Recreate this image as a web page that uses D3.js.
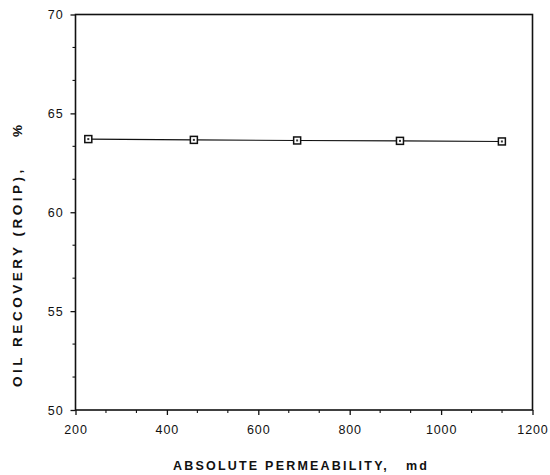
<!DOCTYPE html>
<html>
<head>
<meta charset="utf-8">
<script src="https://d3js.org/d3.v7.min.js"></script>
<style>
  body { margin: 0; background: #fff; }
  svg { display: block; }
  text { font-family: "Liberation Sans", Arial, sans-serif; fill: #111; }
  .tick-label { font-size: 12.5px; letter-spacing: 0.9px; }
  .title { font-size: 12.5px; font-weight: bold; white-space: pre; }
  .title.ytitle { font-size: 13.5px; }
</style>
</head>
<body>
<svg width="550" height="475"></svg>
<script>
// permeability (md) and oil recovery (% ROIP)
var permeability = [228, 459, 685, 910, 1133];
var recovery = [63.7, 63.66, 63.63, 63.61, 63.58];

var xTicks = [200, 400, 600, 800, 1000, 1200];
var yTicks = [50, 55, 60, 65, 70];

var svg = d3.select("svg");
var plotLeft = 75.5, plotRight = 532.5, plotTop = 14.5, plotBottom = 410;

var x = d3.scaleLinear().domain([200, 1200]).range([plotLeft, plotRight]);
var y = d3.scaleLinear().domain([50, 70]).range([plotBottom, plotTop]);

// minor ticks fall at thirds of each major interval
var xMinor = [];
for (var i = 0; i < xTicks.length - 1; i++) {
    xMinor.push(xTicks[i] + 200 / 3, xTicks[i] + 400 / 3);
}
var yMinor = [];
for (var j = 0; j < yTicks.length - 1; j++) {
    yMinor.push(yTicks[j] + 5 / 3, yTicks[j] + 10 / 3);
}

// frame
svg.append("rect")
    .attr("x", plotLeft).attr("y", plotTop)
    .attr("width", plotRight - plotLeft).attr("height", plotBottom - plotTop)
    .attr("fill", "none").attr("stroke", "#111").attr("stroke-width", 1.6);

var xAxis = svg.append("g")
    .attr("transform", "translate(0," + plotBottom + ")")
    .call(d3.axisBottom(x).tickValues(xTicks).tickSize(5).tickPadding(10).tickFormat(d3.format("d")));
xAxis.select(".domain").remove();
xAxis.selectAll("line").attr("stroke", "#111").attr("stroke-width", 1.3);
xAxis.selectAll("text").attr("class", "tick-label").attr("font-family", null).attr("font-size", null).attr("fill", null);

svg.append("g").selectAll("line")
    .data(xMinor).enter().append("line")
    .attr("x1", function(d) { return x(d); }).attr("x2", function(d) { return x(d); })
    .attr("y1", plotBottom).attr("y2", plotBottom + 3)
    .attr("stroke", "#111").attr("stroke-width", 1.1);

var yAxis = svg.append("g")
    .attr("transform", "translate(" + plotLeft + ",0)")
    .call(d3.axisLeft(y).tickValues(yTicks).tickSize(5).tickPadding(7));
yAxis.select(".domain").remove();
yAxis.selectAll("line").attr("stroke", "#111").attr("stroke-width", 1.3);
yAxis.selectAll("text").attr("class", "tick-label").attr("font-family", null).attr("font-size", null).attr("fill", null);

svg.append("g").selectAll("line")
    .data(yMinor).enter().append("line")
    .attr("x1", plotLeft - 3).attr("x2", plotLeft)
    .attr("y1", function(d) { return y(d); }).attr("y2", function(d) { return y(d); })
    .attr("stroke", "#111").attr("stroke-width", 1.1);

// data line + square markers
var pts = permeability.map(function(p, i) { return [p, recovery[i]]; });

svg.append("path")
    .datum(pts)
    .attr("fill", "none").attr("stroke", "#111").attr("stroke-width", 1.1)
    .attr("d", d3.line().x(function(d) { return x(d[0]); }).y(function(d) { return y(d[1]); }));

var m = 7;
svg.append("g").selectAll("rect")
    .data(pts).enter().append("rect")
    .attr("x", function(d) { return x(d[0]) - m / 2; })
    .attr("y", function(d) { return y(d[1]) - m / 2; })
    .attr("width", m).attr("height", m)
    .attr("fill", "#fff").attr("stroke", "#111").attr("stroke-width", 1.5);

svg.append("g").selectAll("rect")
    .data(pts).enter().append("rect")
    .attr("x", function(d) { return x(d[0]) - 1; })
    .attr("y", function(d) { return y(d[1]) - 1; })
    .attr("width", 2).attr("height", 2)
    .attr("fill", "#333");

// axis titles, spread out like the original lettering
svg.append("text")
    .attr("class", "title")
    .attr("x", 300).attr("y", 470)
    .attr("text-anchor", "middle")
    .attr("textLength", 254).attr("lengthAdjust", "spacing")
    .text("ABSOLUTE PERMEABILITY,   md");

svg.append("text")
    .attr("class", "title ytitle")
    .attr("transform", "translate(22,256) rotate(-90)")
    .attr("text-anchor", "middle")
    .attr("textLength", 262).attr("lengthAdjust", "spacing")
    .text("OIL RECOVERY (ROIP),    %");
</script>
</body>
</html>
